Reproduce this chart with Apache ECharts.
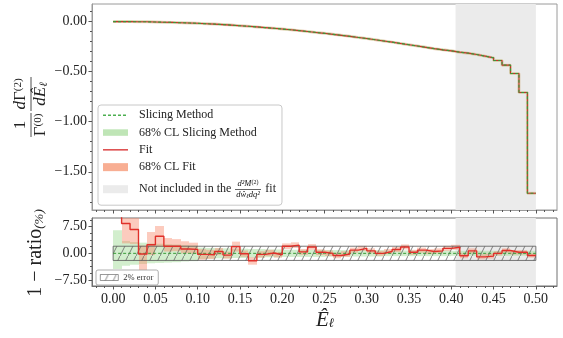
<!DOCTYPE html>
<html>
<head>
<meta charset="utf-8">
<script src="https://cdn.jsdelivr.net/npm/echarts@6/dist/echarts.min.js"></script>
<style>
html, body { margin: 0; padding: 0; background: #fff; }
#main { width: 563px; height: 338px; }
</style>
</head>
<body>
<div id="main"></div>
<script>
// bin edges (width 0.01) and tick positions
const binEdges = [0.00, 0.01, 0.02, 0.03, 0.04, 0.05, 0.06, 0.07, 0.08, 0.09,
  0.10, 0.11, 0.12, 0.13, 0.14, 0.15, 0.16, 0.17, 0.18, 0.19,
  0.20, 0.21, 0.22, 0.23, 0.24, 0.25, 0.26, 0.27, 0.28, 0.29,
  0.30, 0.31, 0.32, 0.33, 0.34, 0.35, 0.36, 0.37, 0.38, 0.39,
  0.40, 0.41, 0.42, 0.43, 0.44, 0.45, 0.46, 0.47, 0.48, 0.49, 0.50];
const xTicks = [0.00, 0.05, 0.10, 0.15, 0.20, 0.25, 0.30, 0.35, 0.40, 0.45, 0.50];
const topTicks = [0.00, -0.50, -1.00, -1.50];
const ratioTicks = [7.50, 0.00, -7.50];

// upper panel: 1/Gamma0 dGamma2/dE (slicing method and fit overlap)
const topValues = [0.000, -0.000, -0.001, -0.002, -0.004, -0.006, -0.008, -0.011, -0.014, -0.017,
  -0.021, -0.025, -0.030, -0.035, -0.041, -0.047, -0.053, -0.060, -0.067, -0.074,
  -0.082, -0.090, -0.099, -0.108, -0.117, -0.127, -0.137, -0.147, -0.158, -0.169,
  -0.181, -0.193, -0.205, -0.218, -0.231, -0.244, -0.257, -0.270, -0.282, -0.292,
  -0.305, -0.315, -0.329, -0.345, -0.362, -0.389, -0.435, -0.518, -0.708, -1.715];

// lower panel: 1 - ratio (%)
const ratioSlicing = [0, 0, 0, 0, 0, 0, 0, 0, 0, 0, 0, 0, 0, 0, 0, 0, 0, 0, 0, 0, 0, 0, 0, 0, 0,
  0, 0, 0, 0, 0, 0, 0, 0, 0, 0, 0, 0, 0, 0, 0, 0, 0, 0, 0, 0, 0, 0, 0, 0, 0];
const slicingLo = [-4.4, -3.5, -3.2, -3.0, -2.8, -2.7, -2.6, -2.5, -2.3, -2.2,
  -1.6, -1.5, -1.4, -1.4, -1.3, -1.3, -1.2, -1.2, -1.1, -1.1,
  -1.0, -1.0, -1.0, -1.0, -1.0, -0.9, -0.9, -0.9, -0.9, -0.9,
  -0.9, -0.9, -0.8, -0.8, -0.8, -0.8, -0.8, -0.8, -0.8, -0.8,
  -0.7, -0.7, -0.7, -0.7, -0.7, -0.7, -0.7, -0.7, -0.7, -0.7];
const slicingHi = [6.5, 3.5, 3.2, 3.0, 2.8, 2.7, 2.6, 2.5, 2.3, 2.2,
  1.6, 1.5, 1.4, 1.4, 1.3, 1.3, 1.2, 1.2, 1.1, 1.1,
  1.0, 1.0, 1.0, 1.0, 1.0, 0.9, 0.9, 0.9, 0.9, 0.9,
  0.9, 0.9, 0.8, 0.8, 0.8, 0.8, 0.8, 0.8, 0.8, 0.8,
  0.7, 0.7, 0.7, 0.7, 0.7, 0.7, 0.7, 0.7, 0.7, 0.7];
const ratioFit = [14.0, 8.4, 6.7, -0.2, 2.4, 4.8, 2.0, 2.0, 1.2, 1.1,
  -0.3, -0.4, 0.5, -0.5, 1.9, -0.1, -2.1, -0.3, 0.1, -0.4,
  2.0, 2.3, 0.4, 1.8, 0.3, 0.0, -0.6, -0.2, 0.9, 1.4,
  0.7, 0.0, 0.5, 1.1, 1.8, 0.3, 0.9, 0.5, 0.7, 1.4,
  1.7, -0.7, 0.7, -1.0, -0.8, 0.0, 0.8, 0.3, 0.3, -0.6];
const fitLo = [11.0, 2.8, 2.6, -7.0, -0.5, 1.8, 0.5, 0.6, 0.0, -0.1,
  -1.8, -1.6, -0.5, -1.5, 0.5, -1.0, -3.2, -1.2, -0.8, -1.2,
  1.2, 1.5, -0.4, 1.0, -0.5, -0.8, -1.4, -1.0, 0.2, 0.7,
  0.0, -0.7, -0.2, 0.4, 1.1, -0.4, 0.2, -0.2, 0.0, 0.7,
  1.0, -1.4, 0.0, -1.7, -1.5, -0.6, 0.2, -0.3, -0.3, -1.2];
const fitHi = [17.0, 13.5, 10.5, 2.2, 6.0, 7.7, 4.3, 4.0, 3.4, 3.0,
  1.2, 1.0, 1.5, 0.5, 3.3, 0.8, -1.1, 0.6, 1.0, 0.4,
  2.8, 3.1, 1.2, 2.6, 1.1, 0.8, 0.2, 0.6, 1.6, 2.1,
  1.4, 0.7, 1.2, 1.8, 2.5, 1.0, 1.6, 1.2, 1.4, 2.1,
  2.4, 0.0, 1.4, -0.3, -0.1, 0.6, 1.4, 0.9, 0.9, 0.0];

const excluded = [0.405, 0.50];   // grey region, not used in the fit
const errorBand = [-2, 2];        // 2% error box

const serif = 'Liberation Serif';
const notIncl = 'Not included in the fit';

// histogram steps: one point per left edge + closing point
function steps(vals) {
  const d = vals.map((v, i) => [binEdges[i], v]);
  d.push([binEdges[vals.length], vals[vals.length - 1]]);
  return d;
}
// one rect per bin: [x0, x1, lo, hi]
function bandData(lo, hi) {
  return lo.map((l, i) => [binEdges[i], binEdges[i + 1], l, hi[i]]);
}
function bandRect(fill) {
  return function (params, api) {
    const a = api.coord([api.value(0), api.value(2)]);
    const b = api.coord([api.value(1), api.value(3)]);
    const cs = params.coordSys;
    const x0 = Math.round(a[0]), x1 = Math.round(b[0]);
    const top = Math.max(Math.min(a[1], b[1]), cs.y);
    const bot = Math.min(Math.max(a[1], b[1]), cs.y + cs.height);
    if (bot <= top) return null;
    return { type: 'rect', shape: { x: x0, y: top, width: x1 - x0, height: bot - top }, style: { fill: fill } };
  };
}
function minorTicks(from, to, step, every) {
  const out = [];
  for (let k = from; k <= to; k++) if (k % every !== 0) out.push(+(k * step).toFixed(4));
  return out;
}
const fmt = v => (v < 0 ? '\u2212' : '') + Math.abs(v).toFixed(2);

function hatchPattern() {
  const c = document.createElement('canvas');
  c.width = 8; c.height = 16;
  const g = c.getContext('2d');
  g.strokeStyle = '#555';
  g.lineWidth = 0.7;
  g.beginPath();
  g.moveTo(-1, 18);
  g.lineTo(9, -2);
  g.stroke();
  return { image: c, repeat: 'repeat' };
}
const hatch = hatchPattern();

function xAxisCfg(grid, minor, labels) {
  return {
    type: 'value', gridIndex: grid, position: 'bottom', min: -0.025, max: 0.525,
    axisLine: { show: !minor, onZero: false, lineStyle: { color: grid ? '#707070' : '#9a9a9a' } },
    axisTick: { show: true, customValues: minor ? minorTicks(-2, 52, 0.01, 5) : xTicks,
      length: minor ? 2 : 3.5, lineStyle: { color: '#555' } },
    axisLabel: { show: labels, customValues: xTicks, formatter: fmt, fontFamily: serif,
      fontSize: 14, color: '#222', margin: 6 },
    splitLine: { show: false }
  };
}
function yAxisCfg(grid, min, max, ticks, minorList, minor) {
  return {
    type: 'value', gridIndex: grid, position: 'left', min: min, max: max,
    axisLine: { show: !minor, onZero: false, lineStyle: { color: grid ? '#707070' : '#9a9a9a' } },
    axisTick: { show: true, customValues: minor ? minorList : ticks,
      length: minor ? 2 : 3.5, lineStyle: { color: '#555' } },
    axisLabel: { show: !minor, customValues: ticks, formatter: fmt, fontFamily: serif,
      fontSize: 14, color: '#222', margin: 5 },
    splitLine: { show: false }
  };
}

const lineBase = { type: 'line', step: 'end', symbol: 'none', showSymbol: false, silent: true };
const dashIcon = 'path://M0,0h3v1.3h-3z M5,0h3v1.3h-3z M10,0h3v1.3h-3z M15,0h3v1.3h-3z M20,0h3v1.3h-3z M25,0h0.01v1.3h-0.01z';
const solidIcon = 'path://M0,0h25v1.3h-25z';
const patchIcon = 'path://M0,0h25v8h-25z';

const chart = echarts.init(document.getElementById('main'));
const option = {
  animation: false,
  grid: [
    { left: 92, top: 4, width: 465, height: 206, show: true, borderColor: '#9a9a9a', borderWidth: 1 },
    { left: 92, top: 218, width: 465, height: 68, show: true, borderColor: '#707070', borderWidth: 1 }
  ],
  xAxis: [
    xAxisCfg(0, false, false),
    xAxisCfg(0, true, false),
    xAxisCfg(1, false, true),
    xAxisCfg(1, true, false)
  ],
  yAxis: [
    yAxisCfg(0, -1.882, 0.176, topTicks, null, false),
    yAxisCfg(0, -1.882, 0.176, topTicks, minorTicks(-18, 1, 0.1, 5), true),
    yAxisCfg(1, -9.2, 9.95, ratioTicks, null, false),
    yAxisCfg(1, -9.2, 9.95, ratioTicks, [-9.375, -5.625, -3.75, -1.875, 1.875, 3.75, 5.625, 9.375], true)
  ],
  legend: [
    {
      left: 98, top: 105, orient: 'vertical', z: 3,
      itemWidth: 25, itemHeight: 10, itemGap: 2.8,
      padding: [3, 6, 4, 5],
      backgroundColor: 'rgba(255,255,255,0.85)', borderColor: '#c8c8c8', borderWidth: 1, borderRadius: 3,
      textStyle: { fontFamily: serif, fontSize: 12, lineHeight: 14.5, color: '#222', padding: [0, 0, 0, 6],
        rich: { gap: { width: 28, height: 24, lineHeight: 24 } } },
      formatter: name => name === notIncl ? 'Not included in the {gap|} fit' : name,
      data: [
        { name: 'Slicing Method', icon: dashIcon, itemStyle: { color: '#4caf50' } },
        { name: '68% CL Slicing Method', icon: 'path://M0,0h25v6.5h-25z', itemStyle: { color: '#bfe5b6' } },
        { name: 'Fit', icon: solidIcon, itemStyle: { color: '#d62728' } },
        { name: '68% CL Fit', icon: patchIcon, itemStyle: { color: '#f8ae93' } },
        { name: notIncl, icon: patchIcon, itemStyle: { color: '#ebebeb' } }
      ]
    },
    {
      left: 96, top: 270, orient: 'vertical', z: 3,
      itemWidth: 18, itemHeight: 6, padding: [3, 5, 3, 4],
      backgroundColor: '#fff', borderColor: '#999', borderWidth: 0.8, borderRadius: 2,
      textStyle: { fontFamily: serif, fontSize: 8.5, color: '#333' },
      data: [{ name: '2% error', icon: 'rect', itemStyle: { color: hatch, borderColor: '#555', borderWidth: 0.6 } }]
    }
  ],
  graphic: [
    {
      type: 'group', x: 31, y: 106, rotation: Math.PI / 2,
      children: [
        { type: 'text', x: -19, y: -1.5, style: { text: '1', fontFamily: serif, fontSize: 17, fill: '#222',
          align: 'center', verticalAlign: 'bottom' } },
        { type: 'line', shape: { x1: -31, y1: 0, x2: -7, y2: 0 }, style: { stroke: '#222', lineWidth: 0.8 } },
        { type: 'text', x: -19, y: 1.5, style: { text: '\u0393{s|(0)}', fontFamily: serif, fontSize: 17, fill: '#222',
          align: 'center', verticalAlign: 'top',
          rich: { s: { fontFamily: serif, fontSize: 11, verticalAlign: 'top', fill: '#222' } } } },
        { type: 'text', x: 12, y: -1.5, style: { text: '{i|d}\u0393{s|(2)}', fontFamily: serif, fontSize: 17, fill: '#222',
          align: 'center', verticalAlign: 'bottom',
          rich: { i: { fontFamily: serif, fontSize: 17, fontStyle: 'italic', fill: '#222' },
                  s: { fontFamily: serif, fontSize: 11, verticalAlign: 'top', fill: '#222' } } } },
        { type: 'line', shape: { x1: -5, y1: 0, x2: 29, y2: 0 }, style: { stroke: '#222', lineWidth: 0.8 } },
        { type: 'text', x: 12, y: 1.5, style: { text: '{i|d\u00ca}{b|\u2113}', fontFamily: serif, fontSize: 17, fill: '#222',
          align: 'center', verticalAlign: 'top',
          rich: { i: { fontFamily: serif, fontSize: 17, fontStyle: 'italic', fill: '#222' },
                  b: { fontFamily: serif, fontSize: 11, fontStyle: 'italic', verticalAlign: 'bottom', fill: '#222' } } } }
      ]
    },
    {
      // fraction inside the last legend entry
      type: 'group', x: 248, y: 189.5, z: 100,
      children: [
        { type: 'text', x: 0, y: -1, z: 100, style: { text: 'd\u00b2M{s|(2)}', fontFamily: serif, fontSize: 8.5, fontStyle: 'italic',
          fill: '#111', align: 'center', verticalAlign: 'bottom',
          rich: { s: { fontFamily: serif, fontSize: 6, verticalAlign: 'top', fill: '#111' } } } },
        { type: 'line', z: 100, shape: { x1: -13, y1: 0, x2: 13, y2: 0 }, style: { stroke: '#222', lineWidth: 0.7 } },
        { type: 'text', x: 0, y: 1, z: 100, style: { text: 'd\u0175{s|\u2113}dq\u00b2', fontFamily: serif, fontSize: 8.5, fontStyle: 'italic',
          fill: '#111', align: 'center', verticalAlign: 'top',
          rich: { s: { fontFamily: serif, fontSize: 6, verticalAlign: 'bottom', fontStyle: 'italic', fill: '#111' } } } }
      ]
    },
    {
      type: 'text', x: 36, y: 253, rotation: Math.PI / 2,
      style: { text: '1 \u2212 ratio{b|(%)}', fontFamily: serif, fontSize: 20, fill: '#222',
        align: 'center', verticalAlign: 'middle',
        rich: { b: { fontFamily: serif, fontSize: 13, fontStyle: 'italic', verticalAlign: 'bottom', fill: '#222' } } }
    },
    {
      type: 'text', x: 325, y: 320,
      style: { text: '{a|\u00ca}{b|\u2113}', align: 'center', verticalAlign: 'middle',
        rich: { a: { fontFamily: serif, fontSize: 21, fontStyle: 'italic', fill: '#222' },
                b: { fontFamily: serif, fontSize: 13, fontStyle: 'italic', verticalAlign: 'bottom', fill: '#222' } } }
    }
  ],
  series: [
    // ---- upper panel ----
    { ...lineBase, name: notIncl, xAxisIndex: 0, yAxisIndex: 0, data: [],
      markArea: { silent: true, z: 1, itemStyle: { color: '#ebebeb' },
        data: [[{ xAxis: excluded[0] }, { xAxis: excluded[1] }]] } },
    { ...lineBase, name: '68% CL Fit', xAxisIndex: 0, yAxisIndex: 0, z: 2,
      lineStyle: { width: 3, color: 'rgba(248,150,120,0.35)' }, data: steps(topValues) },
    { ...lineBase, name: '68% CL Slicing Method', xAxisIndex: 0, yAxisIndex: 0, z: 2,
      lineStyle: { width: 2.5, color: 'rgba(150,215,140,0.45)' }, data: steps(topValues) },
    { ...lineBase, name: 'Fit', xAxisIndex: 0, yAxisIndex: 0, z: 4,
      lineStyle: { width: 1.1, color: '#d62728' }, data: steps(topValues) },
    { ...lineBase, name: 'Slicing Method', xAxisIndex: 0, yAxisIndex: 0, z: 5,
      lineStyle: { width: 1.1, color: '#3a9a3a', type: [3, 2] }, data: steps(topValues) },

    // ---- lower panel ----
    { ...lineBase, name: notIncl, xAxisIndex: 2, yAxisIndex: 2, data: [],
      markArea: { silent: true, z: 1, itemStyle: { color: '#ebebeb' },
        data: [[{ xAxis: excluded[0] }, { xAxis: excluded[1] }]] } },
    { type: 'custom', name: '68% CL Slicing Method', xAxisIndex: 2, yAxisIndex: 2, z: 2, silent: true,
      renderItem: bandRect('rgba(165,222,155,0.5)'), encode: { x: [0, 1], y: [2, 3] },
      data: bandData(slicingLo, slicingHi) },
    { type: 'custom', name: '68% CL Fit', xAxisIndex: 2, yAxisIndex: 2, z: 2, silent: true,
      renderItem: bandRect('rgba(248,130,100,0.42)'), encode: { x: [0, 1], y: [2, 3] },
      data: bandData(fitLo, fitHi) },
    { ...lineBase, name: '2% error', xAxisIndex: 2, yAxisIndex: 2, data: [],
      markArea: { silent: true, z: 3,
        itemStyle: { color: hatch, borderColor: '#555', borderWidth: 0.8 },
        data: [[{ xAxis: binEdges[0], yAxis: errorBand[0] }, { xAxis: binEdges[binEdges.length - 1], yAxis: errorBand[1] }]] } },
    { ...lineBase, name: 'Slicing Method', xAxisIndex: 2, yAxisIndex: 2, z: 4,
      lineStyle: { width: 1, color: '#3a9a3a', type: [3, 2] }, data: steps(ratioSlicing) },
    { ...lineBase, name: 'Fit', xAxisIndex: 2, yAxisIndex: 2, z: 5,
      lineStyle: { width: 1.4, color: '#e0302a' }, data: steps(ratioFit) }
  ]
};
chart.setOption(option);
window.addEventListener('resize', () => chart.resize());
</script>
</body>
</html>
